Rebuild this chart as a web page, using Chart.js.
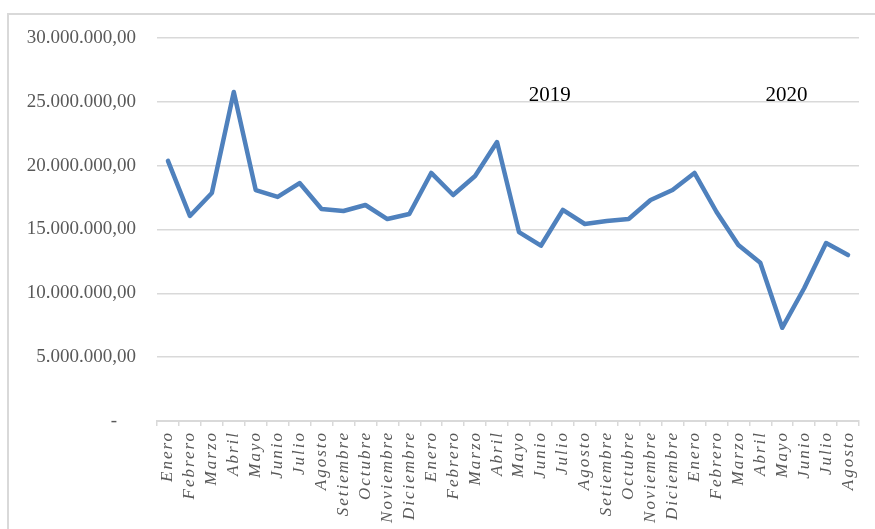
<!DOCTYPE html>
<html>
<head>
<meta charset="utf-8">
<script src="https://cdn.jsdelivr.net/npm/chart.js@4.4.1/dist/chart.umd.min.js"></script>
<style>
  html, body { margin: 0; padding: 0; background: #fff; }
  #wrap { position: relative; width: 875px; height: 529px; }
  #frame { position: absolute; left: 7px; top: 13px; right: -10px; bottom: -10px; border-left: 2px solid #d9d9d9; border-top: 2px solid #d9d9d9; }
  canvas { position: absolute; left: 0; top: 0; }
</style>
</head>
<body>
<div id="wrap"><div id="frame"></div><canvas id="c" width="875" height="529"></canvas></div>
<script>
const months = ["Enero","Febrero","Marzo","Abril","Mayo","Junio","Julio","Agosto","Setiembre","Octubre","Noviembre","Diciembre",
                "Enero","Febrero","Marzo","Abril","Mayo","Junio","Julio","Agosto","Setiembre","Octubre","Noviembre","Diciembre",
                "Enero","Febrero","Marzo","Abril","Mayo","Junio","Julio","Agosto"];
const values = [20370000,16060000,17860000,25770000,18090000,17550000,18640000,16600000,16450000,16920000,15820000,16210000,
                19430000,17700000,19190000,21850000,14800000,13730000,16530000,15430000,15660000,15820000,17310000,18090000,
                19430000,16390000,13790000,12400000,7300000,10400000,13940000,13000000];
const yTickValues = [0,5000000,10000000,15000000,20000000,25000000,30000000];
const yTickLabels = ["-    ","5.000.000,00","10.000.000,00","15.000.000,00","20.000.000,00","25.000.000,00","30.000.000,00"];
const yearLabels = ["2019","2020"];
const yearPositions = [17.4, 28.2];
const yearLevel = 25100000;

const annot = {
  id: 'annot',
  afterDatasetsDraw(chart) {
    const ctx = chart.ctx, xs = chart.scales.x, ys = chart.scales.y;
    ctx.save();
    ctx.font = '21px "Liberation Serif", "Times New Roman", serif';
    ctx.fillStyle = '#000';
    ctx.textAlign = 'center';
    ctx.textBaseline = 'alphabetic';
    yearLabels.forEach((t, i) => ctx.fillText(t, xs.getPixelForValue(yearPositions[i]), ys.getPixelForValue(yearLevel)));
    ctx.restore();
  }
};

const chart = new Chart(document.getElementById('c'), {
  type: 'line',
  data: { labels: months, datasets: [{ data: values, borderColor: '#4f81bd', borderWidth: 4.5, pointRadius: 0, tension: 0, borderJoinStyle: 'round', borderCapStyle: 'round', fill: false }] },
  options: {
    responsive: false, animation: false,
    layout: { padding: { top: 38, right: 16, left: 0, bottom: 0 } },
    plugins: { legend: { display: false }, tooltip: { enabled: false } },
    scales: {
      x: {
        offset: true,
        grid: { display: true, drawOnChartArea: false, drawTicks: true, tickLength: 5, color: '#d9d9d9', lineWidth: 1.5, offset: true },
        border: { display: true, color: '#d9d9d9', width: 2 },
        ticks: { autoSkip: false, minRotation: 90, maxRotation: 90, padding: 5, color: '#595959',
                 font: { family: '"Liberation Serif", "Times New Roman", serif', size: 17, style: 'italic' } },
        afterFit(s) { s.height = 108; }
      },
      y: {
        min: 0, max: 30000000,
        afterBuildTicks(s) { s.ticks = yTickValues.map(v => ({ value: v })); },
        grid: { color: '#d9d9d9', lineWidth: 1.5, drawTicks: false },
        border: { display: false },
        ticks: { padding: 21, color: '#595959', callback: (v) => yTickLabels[yTickValues.indexOf(v)],
                 font: { family: '"Liberation Serif", "Times New Roman", serif', size: 19 } },
        afterFit(s) { s.width = 157; }
      }
    }
  },
  plugins: [annot]
});
const xs = chart.scales.x;
const origDraw = xs.drawLabels.bind(xs);
xs.drawLabels = function (a) { this.ctx.save(); this.ctx.letterSpacing = '2px'; origDraw(a); this.ctx.restore(); };
chart.draw();
</script>
</body>
</html>
